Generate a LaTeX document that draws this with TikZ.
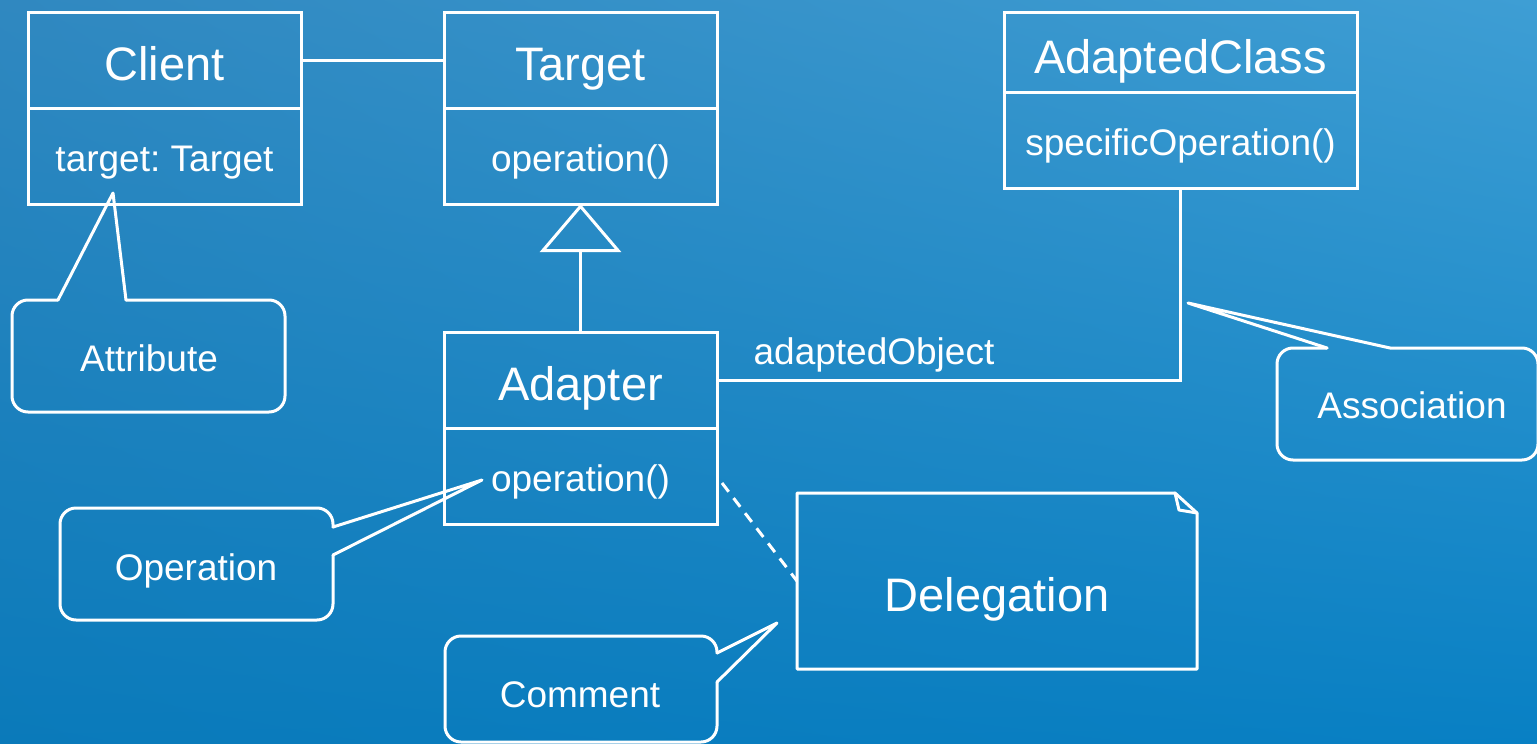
\documentclass[tikz,border=0pt]{standalone}
\usepackage{fontspec}
\setmainfont{Liberation Sans}
\frenchspacing
\usetikzlibrary{positioning,arrows.meta,shadings}

\definecolor{bgtl}{RGB}{48,136,192}
\definecolor{bgtr}{RGB}{62,158,212}
\definecolor{bgbl}{RGB}{10,122,186}
\definecolor{bgbr}{RGB}{8,128,196}

\begin{document}
\begin{tikzpicture}[x=0.5pt,y=-0.5pt]
  \tikzset{
    uml/.style={draw=white, line width=1.5pt, text=white, inner sep=0pt, outer sep=0pt,
                text depth=0pt},
    classname/.style={uml, minimum width=136.5pt, minimum height=48pt, text height=20pt,
                      font=\fontsize{23.5}{28}\selectfont},
    classbody/.style={uml, minimum width=136.5pt, minimum height=48pt, text height=15.7pt,
                      font=\fontsize{18.5}{22}\selectfont},
    wire/.style={white, line width=1.5pt},
    callout/.style={white, line width=1.5pt, line join=round, line cap=round},
    calltext/.style={text=white, inner sep=0pt, text height=13.25pt, text depth=0pt,
                     font=\fontsize{18.5}{22}\selectfont},
    notetext/.style={calltext, text height=16.8pt, font=\fontsize{23.5}{28}\selectfont}
  }

  % background
  \shade[upper left=bgtl, upper right=bgtr, lower left=bgbl, lower right=bgbr]
    (0,0) rectangle (1537,744);
  \useasboundingbox (0,0) rectangle (1537,744);

  % classes
  \node[classname] (client) at (164.5,60) {Client};
  \node[classbody, below=0pt of client] (clientattr) {target: Target};

  \node[classname] (target) at (580.5,60) {Target};
  \node[classbody, below=0pt of target] (targetops) {operation()};

  \node[classname] (adapter) at (580.5,380) {Adapter};
  \node[classbody, below=0pt of adapter] (adapterops) {operation()};

  \node[classname, minimum width=176.5pt, minimum height=40pt, text height=21.9pt] (adapted) at (1180.5,52) {AdaptedClass};
  \node[classbody, minimum width=176.5pt, below=0pt of adapted] (adaptedops) {specificOperation()};

  % relations
  \draw[wire] (client) -- (target);
  \draw[wire, -{Triangle[open, length=24pt, width=40.5pt]}] (adapter) -- (targetops);
  \draw[wire] (adapter.east) -| (adaptedops.south);
  \node[calltext] (adaptedobj) at (874,351) {adaptedObject};

  % note
  \node[inner sep=0pt, outer sep=0pt, minimum width=200pt, minimum height=88pt] (delegnote) at (997,581) {};
  \node[notetext] (delegtext) at (997,594.5) {Delegation};
  \draw[callout] (delegnote.north west) -- ([xshift=-11pt]delegnote.north east)
    -- ([yshift=-10pt]delegnote.north east) -- (delegnote.south east)
    -- (delegnote.south west) -- cycle;
  \draw[callout] ([xshift=-11pt]delegnote.north east)
    -- ([xshift=-9pt, yshift=-8.5pt]delegnote.north east)
    -- ([yshift=-10pt]delegnote.north east);
  \coordinate (dashfrom) at (722,483);
  \draw[wire, dash pattern=on 5.5pt off 4pt] (dashfrom) -- (delegnote.west);

  % callouts: rounded box, then the pointer
  \node[calltext] (attrtext) at (149,358.5) {Attribute};
  \draw[callout, rounded corners=8pt] (126,300) -- (285,300) -- (285,412)
    -- (12,412) -- (12,300) -- (58,300);
  \draw[callout] (58,300) -- (113,193) -- (126,300);

  \node[calltext] (optext) at (196,567) {Operation};
  \draw[callout, rounded corners=8pt] (333,555) -- (333,620) -- (60,620)
    -- (60,508) -- (333,508) -- (333,527);
  \draw[callout] (333,527) -- (482,480) -- (333,555);

  \node[calltext] (commtext) at (580,694) {Comment};
  \draw[callout, rounded corners=8pt] (717,682) -- (717,742) -- (445,742)
    -- (445,636) -- (717,636) -- (717,653);
  \draw[callout] (717,653) -- (777,623) -- (717,682);

  \node[calltext] (assoctext) at (1412,405.5) {Association};
  \draw[callout, rounded corners=8pt] (1390,348) -- (1538,348) -- (1538,460)
    -- (1277,460) -- (1277,348) -- (1327,348);
  \draw[callout] (1327,348) -- (1188,303) -- (1390,348);
\end{tikzpicture}
\end{document}
